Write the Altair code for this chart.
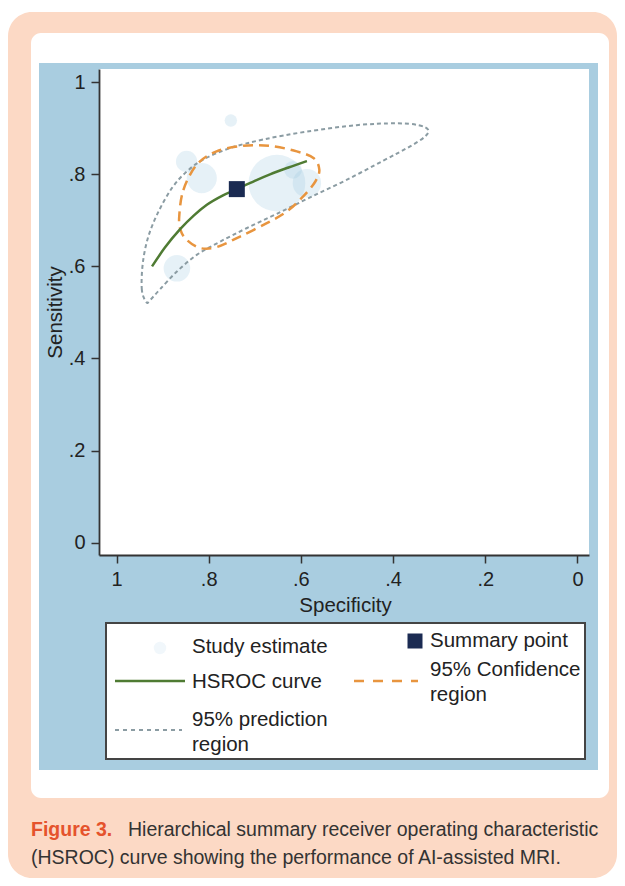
import altair as alt
import pandas as pd

# ---------------- data ----------------
# Study estimates: specificity, sensitivity, relative study weight (bubble area)
study_spec = [0.752, 0.848, 0.815, 0.652, 0.617, 0.587, 0.869]
study_sens = [0.917, 0.828, 0.792, 0.781, 0.810, 0.781, 0.596]
study_weight = [49, 144, 289, 1024, 100, 256, 225]

# Summary point
summary_spec = [0.739]
summary_sens = [0.768]

# HSROC curve
hsroc_spec = [0.923, 0.895, 0.862, 0.832, 0.804, 0.770, 0.739, 0.700, 0.667, 0.627, 0.587]
hsroc_sens = [0.600, 0.641, 0.681, 0.711, 0.734, 0.754, 0.768, 0.786, 0.800, 0.815, 0.829]

# 95% confidence region (closed contour)
conf_spec = [0.864, 0.855, 0.826, 0.783, 0.725, 0.667, 0.609, 0.572, 0.560,
             0.569, 0.595, 0.631, 0.674, 0.732, 0.783, 0.819, 0.848, 0.861]
conf_sens = [0.708, 0.766, 0.821, 0.850, 0.862, 0.862, 0.850, 0.835, 0.810,
             0.784, 0.752, 0.719, 0.694, 0.665, 0.642, 0.640, 0.658, 0.679]

# 95% prediction region (closed contour)
pred_spec = [0.935, 0.945, 0.943, 0.931, 0.909, 0.880, 0.848, 0.812, 0.754,
             0.681, 0.587, 0.479, 0.392, 0.345, 0.324, 0.331, 0.363, 0.421,
             0.501, 0.580, 0.653, 0.718, 0.775, 0.826, 0.869, 0.906, 0.927]
pred_sens = [0.522, 0.549, 0.607, 0.665, 0.719, 0.770, 0.806, 0.832, 0.857,
             0.876, 0.893, 0.907, 0.911, 0.907, 0.897, 0.882, 0.861, 0.830,
             0.788, 0.750, 0.714, 0.683, 0.654, 0.625, 0.589, 0.550, 0.527]

tick_values = [0, 0.2, 0.4, 0.6, 0.8, 1]

legend_labels = ["Study estimate", "Summary point", "HSROC curve",
                 "95% Confidence\nregion", "95% prediction\nregion"]

caption_head = "Figure 3."
caption_line1 = "Hierarchical summary receiver operating characteristic"
caption_line2 = "(HSROC) curve showing the performance of AI-assisted MRI."

# ---------------- tables ----------------
studies = pd.DataFrame({"spec": study_spec, "sens": study_sens, "w": study_weight})
summary = pd.DataFrame({"spec": summary_spec, "sens": summary_sens})
hsroc = pd.DataFrame({"spec": hsroc_spec, "sens": hsroc_sens, "i": range(len(hsroc_spec))})
conf = pd.DataFrame({"spec": conf_spec, "sens": conf_sens, "i": range(len(conf_spec))})
pred = pd.DataFrame({"spec": pred_spec, "sens": pred_sens, "i": range(len(pred_spec))})
dummy = pd.DataFrame({"a": [0]})

FONT = "Liberation Sans, Arial, Helvetica, sans-serif"
AXIS_COLOR = "#333333"
TEXT_COLOR = "#222222"
label_expr = ("datum.value == 0 ? '0' : datum.value == 1 ? '1' : "
              "replace(format(datum.value, '.1f'), '0.', '.')")

x_axis = alt.Axis(values=tick_values, labelExpr=label_expr, grid=False,
                  title="Specificity", titleX=246, titleY=50,
                  titleBaseline="middle", titleAlign="center",
                  tickSize=8, labelPadding=6, zindex=2)
y_axis = alt.Axis(values=tick_values, labelExpr=label_expr, grid=False,
                  title="Sensitivity", titleX=-44, titleY=243, titleAngle=270,
                  titleBaseline="middle", titleAlign="center",
                  tickSize=8, labelPadding=6, zindex=2)

x_enc = alt.X("spec:Q", scale=alt.Scale(domain=[-0.025, 1.038], reverse=True,
                                        nice=False, zero=False), axis=x_axis)
y_enc = alt.Y("sens:Q", scale=alt.Scale(domain=[-0.027, 1.029], nice=False,
                                        zero=False), axis=y_axis)


def deco_rect(x, x2, y, y2, **kw):
    return alt.Chart(dummy).mark_rect(**kw).encode(
        x=alt.value(x), x2=alt.value(x2), y=alt.value(y), y2=alt.value(y2))


def deco_rule(x, x2, y, **kw):
    return alt.Chart(dummy).mark_rule(**kw).encode(
        x=alt.value(x), x2=alt.value(x2), y=alt.value(y))


def deco_text(txt, x, y, **kw):
    return alt.Chart(dummy).mark_text(**kw).encode(
        x=alt.value(x), y=alt.value(y), text=alt.value(txt))


# backgrounds
peach = deco_rect(-91, 518, -57, 809, color="#fcd9c5", cornerRadius=24)
whitebox = deco_rect(-68, 510, -36, 729, color="#ffffff", cornerRadius=10)
blue = deco_rect(-60, 499, -6, 701, color="#a9cde0")
plotbg = deco_rect(0, 490, 0, 486, color="#ffffff")

# data layers
circles = alt.Chart(studies).mark_circle(color="#9ecae1", opacity=0.26).encode(
    x=x_enc, y=y_enc,
    size=alt.Size("w:Q", scale=alt.Scale(domain=[0, 1024], range=[0, 3217]), legend=None))

pred_line = alt.Chart(pred).mark_line(
    color="#8b9ca3", strokeWidth=2, strokeDash=[4, 3], interpolate="cardinal-closed").encode(
    x=x_enc, y=y_enc, order="i:O")

conf_line = alt.Chart(conf).mark_line(
    color="#e8953f", strokeWidth=2.5, strokeDash=[10, 6], interpolate="cardinal-closed").encode(
    x=x_enc, y=y_enc, order="i:O")

hsroc_line = alt.Chart(hsroc).mark_line(
    color="#4f7b33", strokeWidth=2.5, interpolate="monotone").encode(
    x=x_enc, y=y_enc, order="i:O")

summary_pt = alt.Chart(summary).mark_square(
    color="#1b2b52", size=256, opacity=1).encode(x=x_enc, y=y_enc)

# legend
leg_box = deco_rect(7, 486, 554, 690, fill="#ffffff", stroke="#444444", strokeWidth=2)
leg_circle = alt.Chart(dummy).mark_circle(color="#9ecae1", opacity=0.15, size=154).encode(
    x=alt.value(61), y=alt.value(579))
leg_square = alt.Chart(dummy).mark_square(color="#1b2b52", size=225, opacity=1).encode(
    x=alt.value(316), y=alt.value(572))
leg_green = deco_rule(16, 86, 612, color="#4f7b33", strokeWidth=2.5)
leg_orange = deco_rule(255, 319, 612, color="#e8953f", strokeWidth=2.5, strokeDash=[10, 9])
leg_gray = deco_rule(16, 83, 661, color="#8b9ca3", strokeWidth=2, strokeDash=[4, 4])

tkw = dict(font=FONT, fontSize=20.5, color=TEXT_COLOR, align="left",
           baseline="middle", lineBreak="\n", lineHeight=25)
leg_t1 = deco_text(legend_labels[0], 93, 578, **tkw)
leg_t2 = deco_text(legend_labels[1], 331, 572, **tkw)
leg_t3 = deco_text(legend_labels[2], 93, 613, **tkw)
leg_t4 = deco_text(legend_labels[3], 331, 601, **tkw)
leg_t5 = deco_text(legend_labels[4], 93, 651, **tkw)

# caption
ckw = dict(font=FONT, fontSize=19.5, align="left", baseline="middle")
cap0 = deco_text(caption_head, -68, 761, color="#e5532c", fontWeight="bold", **ckw)
cap1 = deco_text(caption_line1, 29, 761, color="#333333", **ckw)
cap2 = deco_text(caption_line2, -68, 789, color="#333333", **ckw)

chart = alt.layer(
    peach, whitebox, blue, plotbg,
    circles, pred_line, conf_line, hsroc_line, summary_pt,
    leg_box, leg_circle, leg_square, leg_green, leg_orange, leg_gray,
    leg_t1, leg_t2, leg_t3, leg_t4, leg_t5,
    cap0, cap1, cap2,
).properties(
    width=490, height=486,
    padding={"left": 91, "top": 61, "right": 28, "bottom": 323},
    autosize=alt.AutoSizeParams(type="none"),
    background="#ffffff",
).configure_view(stroke=None).configure_axis(
    labelFont=FONT, titleFont=FONT, labelFontSize=20, titleFontSize=20.5,
    labelColor=TEXT_COLOR, titleColor=TEXT_COLOR, titleFontWeight="normal",
    domainColor=AXIS_COLOR, domainWidth=1.8, tickColor=AXIS_COLOR, tickWidth=1.5,
)

chart.save("out.html", embed_options={"renderer": "svg", "actions": False})
